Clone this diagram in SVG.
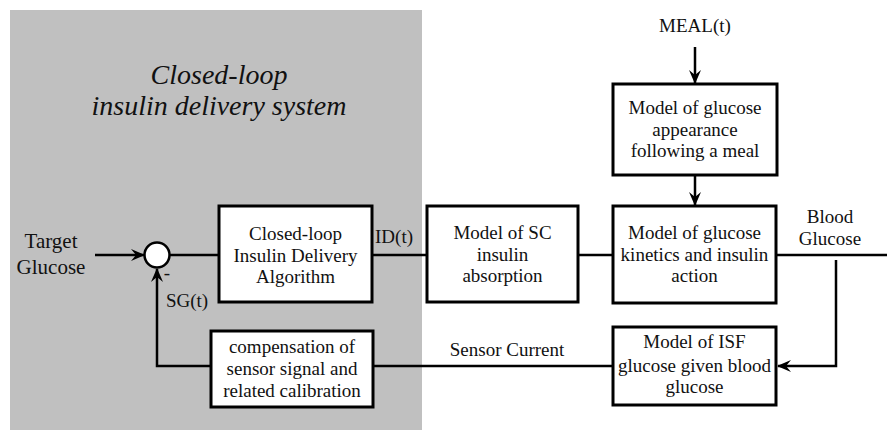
<svg xmlns="http://www.w3.org/2000/svg" width="887" height="430" viewBox="0 0 887 430">
<style>
.box{fill:#fff;stroke:#000;stroke-width:3}
.t{font-family:"Liberation Serif","Times New Roman",serif;font-size:19px;fill:#111;text-anchor:middle}
.big{font-size:21px}
.ln{fill:none;stroke:#000;stroke-width:2.5}
</style>
<defs>
<marker id="ah" viewBox="0 0 14 12" refX="13" refY="6" markerWidth="14" markerHeight="12" markerUnits="userSpaceOnUse" orient="auto">
<path d="M0,0 L14,6 L0,12 L5,6 Z" fill="#000"/>
</marker>
</defs>
<rect width="887" height="430" fill="#fff"/>
<g id="region">
<rect x="10" y="10" width="412" height="420" fill="#c0c0c0"/>
<text x="219" y="84" font-family="Liberation Serif,serif" font-style="italic" font-size="28" text-anchor="middle" fill="#111">Closed-loop</text>
<text x="219" y="115" font-family="Liberation Serif,serif" font-style="italic" font-size="28" text-anchor="middle" fill="#111">insulin delivery system</text>
</g>
<g id="connectors">
<line class="ln" x1="95" y1="255" x2="144" y2="255" marker-end="url(#ah)"/>
<line class="ln" x1="169" y1="255" x2="219" y2="255"/>
<line class="ln" x1="372" y1="255" x2="427" y2="255"/>
<line class="ln" x1="578" y1="255" x2="613" y2="255"/>
<line class="ln" x1="776" y1="255" x2="887" y2="255"/>
<line class="ln" x1="695" y1="47" x2="695" y2="83" marker-end="url(#ah)"/>
<line class="ln" x1="695" y1="175" x2="695" y2="205" marker-end="url(#ah)"/>
<polyline class="ln" points="836,260 836,366 778,366" marker-end="url(#ah)"/>
<line class="ln" x1="373" y1="366" x2="612" y2="366"/>
<polyline class="ln" points="211,366 157,366 157,269" marker-end="url(#ah)"/>
</g>
<g id="labels">
<text class="t big" x="51" y="248">Target</text>
<text class="t big" x="51" y="274">Glucose</text>
<text class="t" x="167" y="279">-</text>
<text class="t" x="187" y="307">SG(t)</text>
<text class="t" x="394" y="243">ID(t)</text>
<text class="t" x="695" y="32">MEAL(t)</text>
<text class="t" x="830" y="223">Blood</text>
<text class="t" x="830" y="245">Glucose</text>
<text class="t" x="507" y="356">Sensor Current</text>
</g>
<g id="sum">
<circle cx="157" cy="255" r="12.5" fill="#fff" stroke="#000" stroke-width="2.5"/>
</g>
<g id="algorithm">
<rect class="box" x="219" y="206" width="153" height="96"/>
<text class="t" x="295.5" y="240">Closed-loop</text>
<text class="t" x="295.5" y="262">Insulin Delivery</text>
<text class="t" x="295.5" y="283">Algorithm</text>
</g>
<g id="sc">
<rect class="box" x="427" y="206" width="151" height="96"/>
<text class="t" x="502.5" y="239">Model of SC</text>
<text class="t" x="502.5" y="261">insulin</text>
<text class="t" x="502.5" y="282">absorption</text>
</g>
<g id="meal">
<rect class="box" x="613" y="84" width="164" height="91"/>
<text class="t" x="695" y="114">Model of glucose</text>
<text class="t" x="695" y="136">appearance</text>
<text class="t" x="695" y="157">following a meal</text>
</g>
<g id="kinetics">
<rect class="box" x="613" y="206" width="163" height="97"/>
<text class="t" x="694.5" y="239">Model of glucose</text>
<text class="t" x="694.5" y="261">kinetics and insulin</text>
<text class="t" x="694.5" y="282">action</text>
</g>
<g id="isf">
<rect class="box" x="613" y="327" width="163" height="78"/>
<text class="t" x="694.5" y="348">Model of ISF</text>
<text class="t" x="694.5" y="372">glucose given blood</text>
<text class="t" x="694.5" y="393">glucose</text>
</g>
<g id="compensation">
<rect class="box" x="211" y="331" width="162" height="76"/>
<text class="t" x="292" y="353">compensation of</text>
<text class="t" x="292" y="375">sensor signal and</text>
<text class="t" x="292" y="397">related calibration</text>
</g>
</svg>
